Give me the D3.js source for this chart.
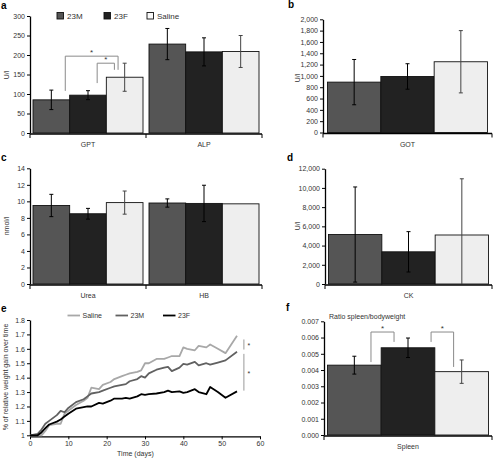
<!DOCTYPE html>
<html><head><meta charset="utf-8">
<script src="https://cdn.jsdelivr.net/npm/d3@7"></script>
<style>
body{margin:0;background:#fff;}
svg{display:block;font-family:"Liberation Sans",Arial,sans-serif;}
</style></head><body>
<svg id="c" width="497" height="459"></svg>
<script>
// ---------- DATA ----------
const groups = ["23M", "23F", "Saline"];
const groupColors = ["#555555", "#222222", "#eeeeee"];

// panel a
const catsA = ["GPT", "ALP"];
const meanA = [[85, 97, 143], [228, 208, 209]];
const errA  = [[25, 11.5, 36], [40, 36, 41]];
const ticksA = [0, 50, 100, 150, 200, 250, 300];
// panel b
const catsB = ["GOT"];
const meanB = [[890, 990, 1250]];
const errB  = [[400, 225, 550]];
const ticksB = [0, 200, 400, 600, 800, 1000, 1200, 1400, 1600, 1800, 2000];
// panel c
const catsC = ["Urea", "HB"];
const meanC = [[9.5, 8.5, 9.85], [9.8, 9.75, 9.7]];
const errC  = [[1.35, 0.65, 1.4], [0.5, 2.2, 0]];
const ticksC = [0, 2, 4, 6, 8, 10, 12, 14];
// panel d
const catsD = ["CK"];
const meanD = [[5150, 3350, 5100]];
const errD  = [[4950, 2100, 5850]];
const ticksD = [0, 2000, 4000, 6000, 8000, 10000, 12000];
// panel f
const catsF = ["Spleen"];
const meanF = [[0.0043, 0.00537, 0.0039]];
const errF  = [[0.00055, 0.0006, 0.00072]];
const ticksF = [0, 0.001, 0.002, 0.003, 0.004, 0.005, 0.006, 0.007];

// panel e (weight gain)
const days = [0,2,3,4,5,7,8,9,10,12,14,15,16,18,19,21,22,24,25,26,28,29,30,31,33,35,36,37,39,40,41,43,44,46,47,49,51,54];
const salineW = [1.0,1.0,1.0,1.03,1.07,1.08,1.08,1.15,1.17,1.21,1.24,1.26,1.33,1.32,1.35,1.37,1.39,1.41,1.42,1.43,1.44,1.45,1.5,1.5,1.53,1.53,1.54,1.55,1.55,1.61,1.6,1.59,1.62,1.61,1.63,1.6,1.57,1.69];
const m23W = [1.0,1.01,1.04,1.08,1.1,1.14,1.17,1.16,1.19,1.23,1.25,1.27,1.29,1.3,1.31,1.33,1.34,1.35,1.355,1.375,1.39,1.41,1.4,1.43,1.455,1.47,1.475,1.445,1.47,1.495,1.49,1.51,1.485,1.5,1.49,1.505,1.52,1.58];
const f23W = [1.0,1.0,1.02,1.05,1.075,1.095,1.11,1.13,1.15,1.185,1.195,1.2,1.2,1.225,1.22,1.24,1.255,1.255,1.26,1.255,1.27,1.285,1.28,1.285,1.29,1.3,1.31,1.3,1.305,1.295,1.3,1.32,1.3,1.285,1.335,1.3,1.26,1.305];
const ticksEx = [0, 10, 20, 30, 40, 50, 60];
const ticksEy = [1, 1.1, 1.2, 1.3, 1.4, 1.5, 1.6, 1.7, 1.8];
const lineSeries = ["Saline", "23M", "23F"];
const lineColors = ["#a8a8a8", "#616161", "#000000"];

// ---------- DRAW ----------
const svg = d3.select("#c");
const FS = 7;

function panelLetter(t, x, y) {
  svg.append("text").attr("x", x).attr("y", y).text(t)
    .attr("font-size", 10).attr("font-weight", "bold").attr("fill", "#000");
}

function yAxis(g, y, ticks, fmt, x0) {
  const ax = g.append("g").attr("transform", `translate(${x0},0)`)
    .call(d3.axisLeft(y).tickValues(ticks).tickFormat(fmt).tickSize(3).tickSizeOuter(0).tickPadding(2));
  ax.select(".domain").attr("stroke", "#000").attr("stroke-width", 1.3);
  ax.selectAll(".tick line").attr("stroke", "#000");
  ax.selectAll(".tick text").attr("font-size", FS).attr("fill", "#333").attr("font-family", "Liberation Sans, Arial, sans-serif");
}

function yTitle(t, x, yc) {
  svg.append("text").attr("transform", `translate(${x},${yc}) rotate(-90)`)
    .attr("text-anchor", "middle").attr("font-size", FS).attr("fill", "#333").text(t);
}

function barPanel(o) {
  const g = svg.append("g");
  const y = d3.scaleLinear().domain([0, o.ticks[o.ticks.length - 1]]).range([o.y0, o.y1]);
  const x = d3.scaleBand().domain(o.cats).range([o.x0, o.x1]).padding(0);
  const inner = d3.scaleBand().domain(groups).range([o.pad, x.bandwidth() - o.pad]).padding(0);
  o.cats.forEach((c, ci) => {
    groups.forEach((s, si) => {
      const v = o.mean[ci][si];
      const bx = x(c) + inner(s);
      g.append("rect").attr("x", bx).attr("y", y(v)).attr("width", inner.bandwidth())
        .attr("height", y(0) - y(v)).attr("fill", groupColors[si]).attr("stroke", "#111").attr("stroke-width", 0.9);
    });
  });
  // error bars
  o.cats.forEach((c, ci) => {
    groups.forEach((s, si) => {
      const v = o.mean[ci][si], e = o.err[ci][si];
      if (!e) return;
      const cx = x(c) + inner(s) + inner.bandwidth() / 2;
      const lo = Math.max(0, v - e), hi = v + e;
      const col = si === 2 ? "#444" : "#000";
      g.append("line").attr("x1", cx).attr("x2", cx).attr("y1", y(lo)).attr("y2", y(hi)).attr("stroke", col).attr("stroke-width", 1);
      [lo, hi].forEach(val => {
        if (val === 0) return;
        g.append("line").attr("x1", cx - 2).attr("x2", cx + 2).attr("y1", y(val)).attr("y2", y(val)).attr("stroke", col).attr("stroke-width", 1);
      });
    });
  });
  // x axis
  g.append("line").attr("x1", o.x0).attr("x2", o.x1).attr("y1", y(0) + 1).attr("y2", y(0) + 1).attr("stroke", "#000").attr("stroke-width", 1.3);
  const bounds = o.cats.map(c => x(c)).concat([o.x1]);
  bounds.forEach(b => g.append("line").attr("x1", b).attr("x2", b).attr("y1", y(0) + 1).attr("y2", y(0) + 5).attr("stroke", "#000"));
  o.cats.forEach(c => g.append("text").attr("x", x(c) + x.bandwidth() / 2).attr("y", y(0) + 14)
    .attr("text-anchor", "middle").attr("font-size", FS).attr("fill", "#333").text(c));
  yAxis(g, y, o.ticks, o.fmt, o.x0);
  // brackets
  (o.brackets || []).forEach(b => {
    const xl = x(o.cats[b.cat]) + inner(groups[b.a]) + inner.bandwidth() * b.fa;
    const xr = x(o.cats[b.cat]) + inner(groups[b.b]) + inner.bandwidth() * b.fb;
    g.append("path").attr("d", `M${xl},${y(b.ya)}V${y(b.top)}H${xr}V${y(b.yb)}`)
      .attr("fill", "none").attr("stroke", "#8a8a8a").attr("stroke-width", 1);
    g.append("text").attr("x", (xl + xr) / 2).attr("y", y(b.top) - 1.5).attr("text-anchor", "middle")
      .attr("font-size", 8).attr("fill", "#333").text("*");
  });
  return {x, y, inner};
}

const fmtInt = d3.format(",");
// a
barPanel({cats: catsA, mean: meanA, err: errA, ticks: ticksA, fmt: fmtInt, x0: 30, x1: 262, y0: 133, y1: 16, pad: 3,
  brackets: [
    {cat: 0, a: 0, fa: 0.88, ya: 108, b: 2, fb: 0.32, yb: 162, top: 197},
    {cat: 0, a: 1, fa: 0.75, ya: 128, b: 2, fb: 0.22, yb: 162, top: 179}
  ]});
panelLetter("a", 1, 9);
yTitle("U/l", 9, 75);
// legend a
const legX = [57, 104, 147];
groups.forEach((s, i) => {
  svg.append("rect").attr("x", legX[i]).attr("y", 12.5).attr("width", 6.5).attr("height", 6.5)
    .attr("fill", groupColors[i] === "#eeeeee" ? "#fafafa" : groupColors[i]).attr("stroke", "#111").attr("stroke-width", 0.9);
  svg.append("text").attr("x", legX[i] + 10).attr("y", 18.8).attr("font-size", 8).attr("fill", "#333").text(s);
});
// b
barPanel({cats: catsB, mean: meanB, err: errB, ticks: ticksB, fmt: fmtInt, x0: 323, x1: 492, y0: 132.5, y1: 19.3, pad: 4.5});
panelLetter("b", 288, 8);
yTitle("U/l", 300, 78);
// c
barPanel({cats: catsC, mean: meanC, err: errC, ticks: ticksC, fmt: fmtInt, x0: 30, x1: 262, y0: 284, y1: 168.3, pad: 3});
panelLetter("c", 1, 161);
yTitle("nmol/l", 9, 226);
// d
barPanel({cats: catsD, mean: meanD, err: errD, ticks: ticksD, fmt: fmtInt, x0: 325, x1: 492, y0: 284, y1: 168.7, pad: 3.5});
panelLetter("d", 287, 161);
yTitle("U/l", 300, 226);
// f
barPanel({cats: catsF, mean: meanF, err: errF, ticks: ticksF, fmt: d3.format(".3f"), x0: 324, x1: 492, y0: 435, y1: 321.3, pad: 3.5,
  brackets: [
    {cat: 0, a: 0, fa: 0.81, ya: 0.00449, b: 1, fb: 0.24, yb: 0.00573, top: 0.00634},
    {cat: 0, a: 1, fa: 0.93, ya: 0.00573, b: 2, fb: 0.35, yb: 0.00419, top: 0.00634}
  ]});
panelLetter("f", 286, 311);
svg.append("text").attr("x", 329).attr("y", 319).attr("font-size", FS).attr("fill", "#333").text("Ratio spleen/bodyweight");

// e line chart
(function () {
  const g = svg.append("g");
  const x = d3.scaleLinear().domain([0, 60]).range([30, 260]);
  const y = d3.scaleLinear().domain([1, 1.8]).range([435.3, 320]);
  const xa = g.append("g").attr("transform", `translate(0,${y(1) + 1})`)
    .call(d3.axisBottom(x).tickValues(ticksEx).tickSize(3).tickSizeOuter(0).tickPadding(2));
  xa.select(".domain").attr("stroke", "#000").attr("stroke-width", 1.3);
  xa.selectAll(".tick text").attr("font-size", FS).attr("fill", "#333");
  yAxis(g, y, ticksEy, d => d === 1 ? "1" : d3.format(".1f")(d), 30);
  const data = [salineW, m23W, f23W];
  const line = d3.line().x((d, i) => x(days[i])).y(d => y(d));
  data.forEach((s, i) => {
    g.append("path").datum(s).attr("d", line).attr("fill", "none")
      .attr("stroke", lineColors[i]).attr("stroke-width", 1.8).attr("stroke-linejoin", "round");
  });
  const lx = [67.5, 115.5, 163];
  lineSeries.forEach((s, i) => {
    g.append("line").attr("x1", lx[i]).attr("x2", lx[i] + 12.5).attr("y1", 315.5).attr("y2", 315.5)
      .attr("stroke", lineColors[i]).attr("stroke-width", 1.8);
    g.append("text").attr("x", lx[i] + 15).attr("y", 318).attr("font-size", FS).attr("fill", "#333").text(s);
  });
  // significance lines
  const sx = x(55.8);
  [[1.665, 1.595], [1.565, 1.31]].forEach(([a, b]) => {
    g.append("line").attr("x1", sx).attr("x2", sx).attr("y1", y(a)).attr("y2", y(b)).attr("stroke", "#999").attr("stroke-width", 1);
    g.append("text").attr("x", sx + 5).attr("y", (y(a) + y(b)) / 2 + 3.5).attr("text-anchor", "middle")
      .attr("font-size", 7).attr("fill", "#333").text("*");
  });
  g.append("text").attr("x", x(27.5)).attr("y", 456).attr("text-anchor", "middle").attr("font-size", FS).attr("fill", "#333").text("Time (days)");
})();
panelLetter("e", 1, 312);
yTitle("% of relative weight gain over time", 8, 377);
</script>
</body></html>
